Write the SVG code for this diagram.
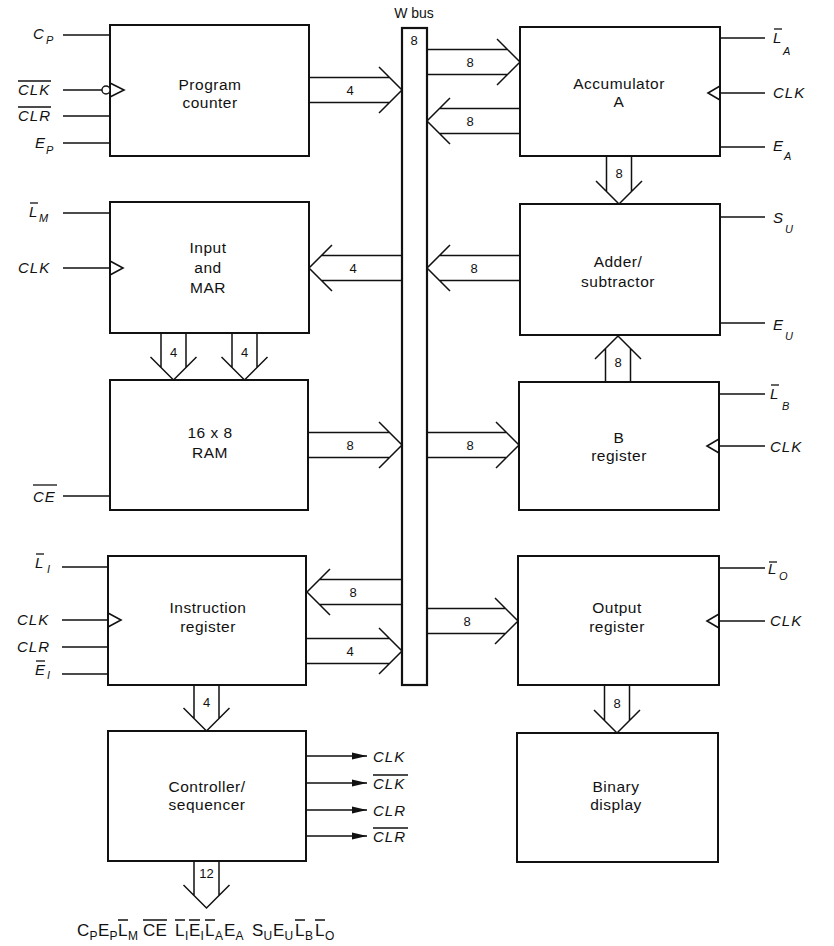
<svg xmlns="http://www.w3.org/2000/svg" width="834" height="946" viewBox="0 0 834 946">
  <style>
    .blk { fill: #fff; stroke: #111; stroke-width: 2; }
    .bus { fill: #fff; stroke: #111; stroke-width: 2.2; }
    .w { fill: none; stroke: #111; stroke-width: 1.5; }
    .sig { fill: none; stroke: #111; stroke-width: 1.6; }
    .bar { stroke: #111; stroke-width: 1.3; }
    .lbl { font-family: "Liberation Sans", Arial, sans-serif; font-size: 15.5px; fill: #111; text-anchor: middle; letter-spacing: 0.5px; }
    .num { font-family: "Liberation Sans", Arial, sans-serif; font-size: 13px; fill: #111; text-anchor: middle; }
    .it { font-family: "Liberation Sans", Arial, sans-serif; font-style: italic; font-size: 15px; fill: #111; letter-spacing: 1px; }
    .sb { font-family: "Liberation Sans", Arial, sans-serif; font-style: italic; font-size: 11px; fill: #111; }
    .cw { font-family: "Liberation Sans", Arial, sans-serif; font-size: 17px; fill: #111; }
    .cws { font-family: "Liberation Sans", Arial, sans-serif; font-size: 12px; fill: #111; }
  </style>
  <defs>
    <marker id="head" viewBox="0 0 10 6" refX="10" refY="3" markerWidth="10" markerHeight="6" markerUnits="userSpaceOnUse" orient="auto">
      <path d="M0,0 L10,3 L0,6 Z" fill="#111"/>
    </marker>
  </defs>
  <rect width="834" height="946" fill="#fff"/>

  <!-- W bus -->
  <g id="wbus">
    <text class="num" x="414" y="18" style="font-size:14px">W bus</text>
    <rect class="bus" x="402" y="28" width="25" height="657"/>
    <text class="num" x="414" y="45">8</text>
  </g>

  <!-- Program counter -->
  <g id="pc">
    <rect class="blk" x="110" y="25" width="199" height="131"/>
    <text class="lbl" x="210" y="90">Program</text>
    <text class="lbl" x="210" y="108">counter</text>
    <path class="sig" d="M63,35 H110 M63,90 H102 M63,116 H110 M63,143 H110"/>
    <circle cx="106" cy="90" r="4" fill="#fff" stroke="#111" stroke-width="1.4"/>
    <path class="sig" d="M110,83 L124,90 L110,97"/>
    <text class="it" x="33" y="39">C</text><text class="sb" x="46" y="44">P</text>
    <text class="it" x="18" y="95">CLK</text><line class="bar" x1="18" y1="81" x2="51" y2="81"/>
    <text class="it" x="18" y="121">CLR</text><line class="bar" x1="18" y1="107" x2="51" y2="107"/>
    <text class="it" x="35" y="148">E</text><text class="sb" x="46" y="154">P</text>
  </g>

  <!-- Accumulator A -->
  <g id="acc">
    <rect class="blk" x="520" y="27" width="200" height="129"/>
    <text class="lbl" x="619" y="89">Accumulator</text>
    <text class="lbl" x="619" y="107">A</text>
    <path class="sig" d="M720,38 H765 M720,93 H765 M720,147 H765"/>
    <path class="sig" d="M720,86 L708,93 L720,100"/>
    <text class="it" x="773" y="43">L</text><line class="bar" x1="774" y1="29" x2="782" y2="29"/><text class="sb" x="783" y="55">A</text>
    <text class="it" x="773" y="98">CLK</text>
    <text class="it" x="773" y="151">E</text><text class="sb" x="784" y="160">A</text>
  </g>

  <!-- Input and MAR -->
  <g id="mar">
    <rect class="blk" x="110" y="202" width="199" height="131"/>
    <text class="lbl" x="208" y="253">Input</text>
    <text class="lbl" x="208" y="273">and</text>
    <text class="lbl" x="208" y="293">MAR</text>
    <path class="sig" d="M63,213 H110 M63,268 H110"/>
    <path class="sig" d="M110,261 L123,268 L110,275"/>
    <text class="it" x="29" y="217">L</text><line class="bar" x1="30" y1="203" x2="38" y2="203"/><text class="sb" x="39" y="222">M</text>
    <text class="it" x="18" y="273">CLK</text>
  </g>

  <!-- Adder/subtractor -->
  <g id="adder">
    <rect class="blk" x="520" y="204" width="200" height="131"/>
    <text class="lbl" x="618" y="267">Adder/</text>
    <text class="lbl" x="618" y="287">subtractor</text>
    <path class="sig" d="M720,217 H765 M720,323 H765"/>
    <text class="it" x="773" y="223">S</text><text class="sb" x="785" y="233">U</text>
    <text class="it" x="773" y="330">E</text><text class="sb" x="785" y="340">U</text>
  </g>

  <!-- 16 x 8 RAM -->
  <g id="ram">
    <rect class="blk" x="110" y="380" width="198" height="130"/>
    <text class="lbl" x="210" y="438">16 x 8</text>
    <text class="lbl" x="210" y="458">RAM</text>
    <path class="sig" d="M63,496 H110"/>
    <text class="it" x="33" y="502">CE</text><line class="bar" x1="33" y1="485" x2="57" y2="485"/>
  </g>

  <!-- B register -->
  <g id="breg">
    <rect class="blk" x="519" y="382" width="200" height="128"/>
    <text class="lbl" x="619" y="443">B</text>
    <text class="lbl" x="619" y="461">register</text>
    <path class="sig" d="M719,394 H765 M719,446 H765"/>
    <path class="sig" d="M719,439 L707,446 L719,453"/>
    <text class="it" x="770" y="399">L</text><line class="bar" x1="771" y1="385" x2="779" y2="385"/><text class="sb" x="782" y="410">B</text>
    <text class="it" x="770" y="452">CLK</text>
  </g>

  <!-- Instruction register -->
  <g id="ir">
    <rect class="blk" x="108" y="556" width="198" height="129"/>
    <text class="lbl" x="208" y="613">Instruction</text>
    <text class="lbl" x="208" y="632">register</text>
    <path class="sig" d="M62,567 H108 M62,620 H108 M62,647 H108 M62,674 H108"/>
    <path class="sig" d="M108,613 L121,620 L108,627"/>
    <text class="it" x="35" y="568">L</text><line class="bar" x1="36" y1="554" x2="44" y2="554"/><text class="sb" x="47" y="573">I</text>
    <text class="it" x="17" y="625">CLK</text>
    <text class="it" x="17" y="652">CLR</text>
    <text class="it" x="35" y="675">E</text><line class="bar" x1="36" y1="661" x2="45" y2="661"/><text class="sb" x="47" y="679">I</text>
  </g>

  <!-- Output register -->
  <g id="outreg">
    <rect class="blk" x="518" y="556" width="201" height="129"/>
    <text class="lbl" x="617" y="613">Output</text>
    <text class="lbl" x="617" y="632">register</text>
    <path class="sig" d="M719,568 H765 M719,621 H765"/>
    <path class="sig" d="M719,614 L707,621 L719,628"/>
    <text class="it" x="768" y="574">L</text><line class="bar" x1="769" y1="562" x2="777" y2="562"/><text class="sb" x="779" y="580">O</text>
    <text class="it" x="770" y="626">CLK</text>
  </g>

  <!-- Controller/sequencer -->
  <g id="ctrl">
    <rect class="blk" x="108" y="731" width="198" height="130"/>
    <text class="lbl" x="207" y="792">Controller/</text>
    <text class="lbl" x="207" y="810">sequencer</text>
    <path class="sig" d="M306,756 H367 M306,783 H367 M306,810 H367 M306,836 H367" stroke-width="1.4"/>
    <path d="M352,752.5 L367,756 L352,759.5 Z M352,779.5 L367,783 L352,786.5 Z M352,806.5 L367,810 L352,813.5 Z M352,832.5 L367,836 L352,839.5 Z" fill="#111"/>
    <text class="it" x="373" y="762">CLK</text>
    <text class="it" x="373" y="789">CLK</text><line class="bar" x1="373" y1="775" x2="408" y2="775"/>
    <text class="it" x="373" y="816">CLR</text>
    <text class="it" x="373" y="842">CLR</text><line class="bar" x1="373" y1="828" x2="408" y2="828"/>
  </g>

  <!-- Binary display -->
  <g id="display">
    <rect class="blk" x="517" y="733" width="201" height="129"/>
    <text class="lbl" x="616" y="792">Binary</text>
    <text class="lbl" x="616" y="810">display</text>
  </g>

  <!-- Control word -->
  <g id="controlword">
    <text class="cw" y="936">
      <tspan x="77">C</tspan><tspan class="cws" x="89.5" y="940">P</tspan>
      <tspan x="98" y="936">E</tspan><tspan class="cws" x="109.5" y="940">P</tspan>
      <tspan x="118" y="936">L</tspan><tspan class="cws" x="128" y="940">M</tspan>
      <tspan x="143" y="936">C</tspan><tspan x="155.5">E</tspan>
      <tspan x="175">L</tspan><tspan class="cws" x="185" y="940">I</tspan>
      <tspan x="189" y="936">E</tspan><tspan class="cws" x="200.5" y="940">I</tspan>
      <tspan x="205" y="936">L</tspan><tspan class="cws" x="215" y="940">A</tspan>
      <tspan x="224" y="936">E</tspan><tspan class="cws" x="235.5" y="940">A</tspan>
      <tspan x="252" y="936">S</tspan><tspan class="cws" x="263.5" y="940">U</tspan>
      <tspan x="273" y="936">E</tspan><tspan class="cws" x="284.5" y="940">U</tspan>
      <tspan x="295" y="936">L</tspan><tspan class="cws" x="305" y="940">B</tspan>
      <tspan x="315" y="936">L</tspan><tspan class="cws" x="325" y="940">O</tspan>
    </text>
    <path class="bar" d="M118,920 H128 M143,920 H167 M175,920 H185 M189,920 H200 M205,920 H215 M295,920 H305 M315,920 H325"/>
  </g>

  <!-- Bus connectors (wide arrows) -->
  <g id="connectors">
    <!-- PC -> bus -->
    <path class="w" d="M309,77.5 H389.5 M309,102.5 H389.5 M379,67 L402,90 L379,113"/>
    <text class="num" x="350" y="95">4</text>
    <!-- bus -> accumulator -->
    <path class="w" d="M427,49.5 H507.5 M427,74.5 H507.5 M497,39 L520,62 L497,85"/>
    <text class="num" x="470" y="67">8</text>
    <!-- accumulator -> bus -->
    <path class="w" d="M520,108.5 H439.5 M520,133.5 H439.5 M450,98 L427,121 L450,144"/>
    <text class="num" x="470" y="126">8</text>
    <!-- bus -> MAR -->
    <path class="w" d="M402,255.5 H321.5 M402,280.5 H321.5 M332,245 L309,268 L332,291"/>
    <text class="num" x="353" y="273">4</text>
    <!-- adder -> bus -->
    <path class="w" d="M520,255.5 H439.5 M520,280.5 H439.5 M450,245 L427,268 L450,291"/>
    <text class="num" x="474" y="273">8</text>
    <!-- RAM -> bus -->
    <path class="w" d="M308,432.5 H389.5 M308,457.5 H389.5 M379,422 L402,445 L379,468"/>
    <text class="num" x="350" y="450">8</text>
    <!-- bus -> B register -->
    <path class="w" d="M427,432.5 H506.5 M427,457.5 H506.5 M496,422 L519,445 L496,468"/>
    <text class="num" x="470" y="450">8</text>
    <!-- bus -> instruction register -->
    <path class="w" d="M402,579.5 H319.5 M402,604.5 H319.5 M330,569 L307,592 L330,615"/>
    <text class="num" x="353" y="597">8</text>
    <!-- instruction register -> bus -->
    <path class="w" d="M306,638.5 H389.5 M306,663.5 H389.5 M379,628 L402,651 L379,674"/>
    <text class="num" x="350" y="656">4</text>
    <!-- bus -> output register -->
    <path class="w" d="M427,608.5 H505.5 M427,633.5 H505.5 M495,598 L518,621 L495,644"/>
    <text class="num" x="467" y="626">8</text>

    <!-- accumulator -> adder -->
    <path class="w" d="M606.5,156 V191.5 M631.5,156 V191.5 M596,181 L619,204 L642,181"/>
    <text class="num" x="619" y="178">8</text>
    <!-- MAR -> RAM (two nibbles) -->
    <path class="w" d="M161,333 V367.5 M186,333 V367.5 M150.5,357 L173.5,380 L196.5,357"/>
    <text class="num" x="173.5" y="357">4</text>
    <path class="w" d="M232,333 V367.5 M257,333 V367.5 M221.5,357 L244.5,380 L267.5,357"/>
    <text class="num" x="244.5" y="357">4</text>
    <!-- B register -> adder -->
    <path class="w" d="M605.5,382 V348.5 M630.5,382 V348.5 M595,359 L618,336 L641,359"/>
    <text class="num" x="618" y="367">8</text>
    <!-- instruction register -> controller -->
    <path class="w" d="M194,685 V718.5 M219,685 V718.5 M183.5,708 L206.5,731 L229.5,708"/>
    <text class="num" x="206.5" y="707">4</text>
    <!-- output register -> binary display -->
    <path class="w" d="M604.5,685 V720.5 M629.5,685 V720.5 M594,710 L617,733 L640,710"/>
    <text class="num" x="617" y="708">8</text>
    <!-- controller -> control word -->
    <path class="w" d="M194,861 V895.5 M219,861 V895.5 M183.5,885 L206.5,908 L229.5,885"/>
    <text class="num" x="206.5" y="878">12</text>
  </g>
</svg>
